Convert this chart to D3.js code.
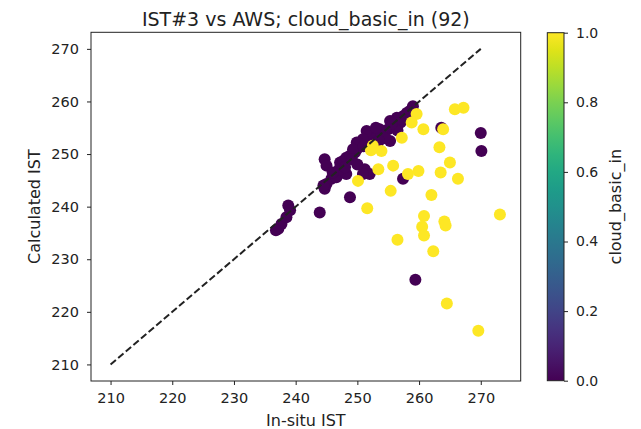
<!DOCTYPE html>
<html>
<head>
<meta charset="utf-8">
<script src="https://cdn.jsdelivr.net/npm/d3@7"></script>
<style>
  body { margin: 0; background: #fff; }
  text { font-family: "DejaVu Sans", sans-serif; fill: #222; }
</style>
</head>
<body>
<svg width="641" height="429"></svg>
<script>
// in-situ IST, calculated IST, cloud flag
var insituClear = [237.2, 237.7, 238.5, 238.8, 239.1, 236.8, 243.9, 244.7, 245.0, 245.8, 246.6, 248.2, 248.8,
  244.7, 245.0, 247.2, 247.7, 248.2, 248.8, 249.6, 249.9, 259.0, 258.5, 257.4, 256.4, 255.3, 256.1, 255.0,
  254.2, 253.6, 252.8, 252.0, 251.5, 250.9, 249.9, 249.3, 249.1, 251.2, 252.0, 257.4, 263.6, 270.1, 270.0,
  259.4, 250.9, 257.0, 255.3, 252.6, 247.0, 246.0, 251.0, 253.0, 254.5, 258.0, 250.0, 253.5, 256.5, 244.5,
  248.0, 255.6];
var calcClear = [235.8, 236.7, 238.0, 240.2, 239.3, 235.5, 238.9, 243.4, 244.3, 245.3, 245.6, 246.2, 241.8,
  249.0, 247.8, 248.4, 248.7, 249.3, 249.7, 250.3, 250.9, 259.1, 258.2, 257.2, 256.9, 256.3, 255.4, 254.7,
  254.1, 254.7, 254.1, 253.5, 254.4, 252.8, 252.2, 250.9, 249.0, 247.1, 246.2, 245.3, 255.0, 250.6, 254.0,
  226.1, 246.2, 256.0, 252.5, 252.0, 247.0, 246.5, 251.5, 255.0, 253.0, 257.8, 248.0, 252.5, 254.5, 244.0,
  247.5, 255.8];
var insituCloudy = [250.1, 259.6, 260.7, 257.2, 252.5, 253.9, 255.8, 258.2, 259.9, 263.5, 263.3, 263.9, 253.4,
  265.0, 266.3, 262.0, 273.1, 260.8, 260.5, 260.8, 264.1, 264.3, 256.5, 262.3, 264.5, 269.6, 255.4, 251.6,
  265.8, 267.2, 252.2, 258.8];
var calcCloudy = [244.9, 257.6, 254.7, 253.1, 251.6, 250.6, 247.8, 246.2, 246.8, 246.5, 251.3, 254.7, 247.1,
  248.4, 245.3, 242.2, 238.5, 238.2, 236.2, 234.5, 237.2, 236.4, 233.7, 231.5, 221.6, 216.4, 243.0, 239.7,
  258.5, 258.8, 250.7, 256.0];
var oneToOne = [210, 270];
var xTicks = [210, 220, 230, 240, 250, 260, 270];
var yTicks = [210, 220, 230, 240, 250, 260, 270];
var cbTicks = [0, 0.2, 0.4, 0.6, 0.8, 1.0];

var points = [];
insituClear.forEach(function (d, i) { points.push({x: d, y: calcClear[i], c: 0}); });
insituCloudy.forEach(function (d, i) { points.push({x: d, y: calcCloudy[i], c: 1}); });

var svg = d3.select("svg");
var axLeft = 91, axRight = 520.7, axTop = 32.3, axBottom = 381;

var x = d3.scaleLinear().domain([206.83, 276.47]).range([axLeft, axRight]);
var y = d3.scaleLinear().domain([206.85, 273.15]).range([axBottom, axTop]);
var color = d3.scaleSequential(d3.interpolateViridis).domain([0, 1]);

// points
svg.append("g").selectAll("circle").data(points).enter().append("circle")
    .attr("cx", function (d) { return x(d.x); })
    .attr("cy", function (d) { return y(d.y); })
    .attr("r", 6)
    .attr("fill", function (d) { return color(d.c); });

// 1:1 line
svg.append("line")
    .attr("x1", x(oneToOne[0])).attr("y1", y(oneToOne[0]))
    .attr("x2", x(oneToOne[1])).attr("y2", y(oneToOne[1]))
    .attr("stroke", "#222").attr("stroke-width", 2)
    .attr("stroke-dasharray", "7,3");

// axes
var xAxis = svg.append("g").attr("transform", "translate(0," + axBottom + ")")
    .call(d3.axisBottom(x).tickValues(xTicks).tickSize(4).tickPadding(8));
var yAxis = svg.append("g").attr("transform", "translate(" + axLeft + ",0)")
    .call(d3.axisLeft(y).tickValues(yTicks).tickSize(4).tickPadding(8));
[xAxis, yAxis].forEach(function (a) {
    a.select(".domain").remove();
    a.selectAll("line").attr("stroke", "#222").attr("stroke-width", 1);
    a.selectAll("text").attr("font-size", 14.5).style("font-family", "DejaVu Sans").attr("fill", "#222");
});

svg.append("rect")
    .attr("x", axLeft).attr("y", axTop)
    .attr("width", axRight - axLeft).attr("height", axBottom - axTop)
    .attr("fill", "none").attr("stroke", "#222").attr("stroke-width", 1);

// labels
svg.append("text").attr("x", (axLeft + axRight) / 2).attr("y", 26)
    .attr("text-anchor", "middle").attr("font-size", 19)
    .text("IST#3 vs AWS; cloud_basic_in (92)");
svg.append("text").attr("x", (axLeft + axRight) / 2).attr("y", 426)
    .attr("text-anchor", "middle").attr("font-size", 16)
    .text("In-situ IST");
svg.append("text")
    .attr("transform", "translate(40," + ((axTop + axBottom) / 2) + ") rotate(-90)")
    .attr("text-anchor", "middle").attr("font-size", 16)
    .text("Calculated IST");

// colorbar
var cbLeft = 547.3, cbRight = 564, cbTop = 32.7, cbBottom = 380.7;
var cbScale = d3.scaleLinear().domain([0, 1]).range([cbBottom, cbTop]);
var grad = svg.append("defs").append("linearGradient")
    .attr("id", "viridis").attr("x1", 0).attr("y1", 1).attr("x2", 0).attr("y2", 0);
d3.range(0, 1.0001, 0.05).forEach(function (t) {
    grad.append("stop").attr("offset", t).attr("stop-color", color(t));
});
svg.append("rect")
    .attr("x", cbLeft).attr("y", cbTop)
    .attr("width", cbRight - cbLeft).attr("height", cbBottom - cbTop)
    .attr("fill", "url(#viridis)").attr("stroke", "#222").attr("stroke-width", 1);
var cbAxis = svg.append("g").attr("transform", "translate(" + cbRight + ",0)")
    .call(d3.axisRight(cbScale).tickValues(cbTicks).tickFormat(d3.format(".1f")).tickSize(4).tickPadding(8));
cbAxis.select(".domain").remove();
cbAxis.selectAll("line").attr("stroke", "#222").attr("stroke-width", 1);
cbAxis.selectAll("text").attr("font-size", 14).style("font-family", "DejaVu Sans").attr("fill", "#222");
svg.append("text")
    .attr("transform", "translate(621," + ((cbTop + cbBottom) / 2) + ") rotate(-90)")
    .attr("text-anchor", "middle").attr("font-size", 16)
    .text("cloud_basic_in");
</script>
</body>
</html>
